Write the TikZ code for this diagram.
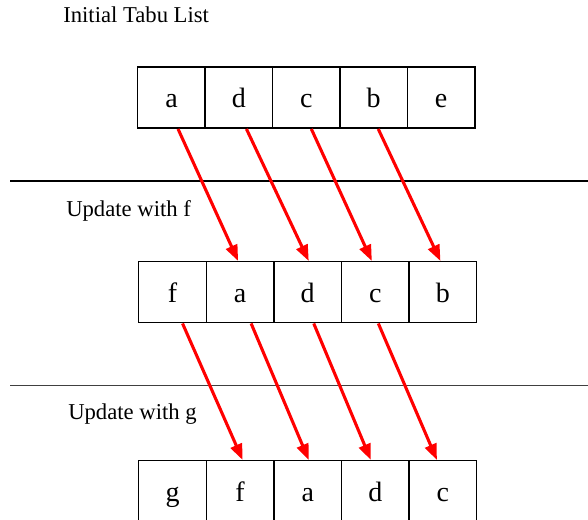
\documentclass[tikz,border=0pt]{standalone}
\usepackage{fontspec}
\setmainfont{Liberation Serif}
\usetikzlibrary{arrows.meta,calc}
\tikzset{
  cell/.style={draw=black,line width=1.1pt,minimum width=50.7pt,minimum height=45.75pt,
    inner sep=0pt,text height=15pt,text depth=0pt,font=\fontsize{21}{23}\selectfont,anchor=north west},
  lbl/.style={anchor=base west,inner sep=0pt,font=\fontsize{17}{19}\selectfont},
  mv/.style={draw=red,line width=2.3pt,-{Triangle[length=12pt,width=9pt]}},
  sep/.style={draw=black,line width=1pt}
}
\begin{document}
\begin{tikzpicture}[x=0.75pt,y=-0.75pt]
\useasboundingbox (0,0) rectangle (588,520);
% labels
\node[lbl] (t0) at (63,23) {Initial Tabu List};
\node[lbl] (t1) at (66,217) {Update with f};
\node[lbl] (t2) at (68,419) {Update with g};
% separators
\coordinate (l1a) at (10,181); \coordinate (l1b) at (588,181);
\coordinate (l2a) at (10,385.5); \coordinate (l2b) at (588,385.5);
\draw[sep] (l1a) -- (l1b);
\draw[sep,draw=black!75,line width=0.9pt] (l2a) -- (l2b);
% row 1
\node[cell] (r1a) at (137,66.5) {a};
\node[cell] (r1d) at (204.4,66.5) {d};
\node[cell] (r1c) at (271.8,66.5) {c};
\node[cell] (r1b) at (339.2,66.5) {b};
\node[cell] (r1e) at (406.6,66.5) {e};
% row 2
\node[cell] (r2f) at (138,261) {f};
\node[cell] (r2a) at (205.6,261) {a};
\node[cell] (r2d) at (273.2,261) {d};
\node[cell] (r2c) at (340.8,261) {c};
\node[cell] (r2b) at (408.4,261) {b};
% row 3
\node[cell] (r3g) at (138,460) {g};
\node[cell] (r3f) at (205.6,460) {f};
\node[cell] (r3a) at (273.2,460) {a};
\node[cell] (r3d) at (340.8,460) {d};
\node[cell] (r3c) at (408.4,460) {c};
% arrows row1 -> row2
\draw[mv] ($(r1a.south)+(6.5,0)$) -- ($(r2a.north)+(-2,0)$);
\draw[mv] ($(r1d.south)+(7.5,0)$) -- ($(r2d.north)+(1,0)$);
\draw[mv] ($(r1c.south)+(5,0)$) -- ($(r2c.north)+(-3.5,0)$);
\draw[mv] ($(r1b.south)+(4.5,0)$) -- ($(r2b.north)+(-2.5,0)$);
% arrows row2 -> row3
\draw[mv] ($(r2f.south)+(10,0)$) -- ($(r3f.north)+(2.5,0)$);
\draw[mv] ($(r2a.south)+(11,0)$) -- ($(r3a.north)+(1,0)$);
\draw[mv] ($(r2d.south)+(6,0)$) -- ($(r3d.north)+(-4.5,0)$);
\draw[mv] ($(r2c.south)+(3,0)$) -- ($(r3c.north)+(-6,0)$);
\end{tikzpicture}
\end{document}
